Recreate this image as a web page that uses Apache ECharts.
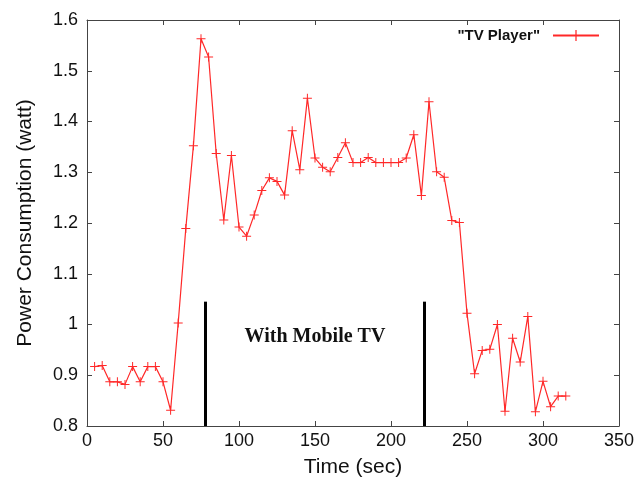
<!DOCTYPE html>
<html>
<head>
<meta charset="utf-8">
<script src="https://cdn.jsdelivr.net/npm/echarts@6/dist/echarts.min.js"></script>
<style>
  html, body { margin: 0; padding: 0; background: #fff; }
  #chart { width: 644px; height: 480px; }
</style>
</head>
<body>
<div id="chart"></div>
<script>
// Sample times (sec) and measured power draw (watt)
const timeSec = [5, 10, 15, 20, 25, 30, 35, 40, 45, 50, 55, 60, 65, 70, 75, 80, 85, 90, 95, 100,
  105, 110, 115, 120, 125, 130, 135, 140, 145, 150, 155, 160, 165, 170, 175, 180, 185, 190, 195, 200,
  205, 210, 215, 220, 225, 230, 235, 240, 245, 250, 255, 260, 265, 270, 275, 280, 285, 290, 295, 300,
  305, 310, 315];
const powerWatt = [0.917, 0.919, 0.887, 0.887, 0.882, 0.917, 0.887, 0.917, 0.917, 0.887,
  0.831, 1.003, 1.189, 1.352, 1.563, 1.527, 1.337, 1.206, 1.333, 1.192,
  1.174, 1.216, 1.264, 1.289, 1.282, 1.255, 1.382, 1.305, 1.446, 1.328,
  1.310, 1.301, 1.329, 1.358, 1.319, 1.319, 1.329, 1.319, 1.319, 1.319,
  1.319, 1.328, 1.374, 1.254, 1.439, 1.301, 1.290, 1.205, 1.201, 1.022,
  0.903, 0.949, 0.951, 1.000, 0.829, 0.973, 0.926, 1.016, 0.828, 0.888,
  0.838, 0.859, 0.859];

// Start / end of the mobile TV session and the height of the marker bars
const sessionBounds = [78, 222];
const boundTop = 1.045;
const sessionLabel = 'With Mobile TV';
const sessionLabelPos = [150, 0.975];

const seriesName = '"TV Player"';

const xTicks = { min: 0, max: 350, interval: 50 };
const yTicks = { min: 0.8, max: 1.6, interval: 0.1 };

const plusPath = 'path://M4,0h1v4h4v1h-4v4h-1v-4h-4v-1h4z';
const frameColor = '#444';
const lineRed = '#ff2828';
const fontFamily = '"Liberation Sans", Arial, sans-serif';

const chart = echarts.init(document.getElementById('chart'), null, { renderer: 'canvas' });

const axisCommon = {
  axisLine: { show: true, onZero: false, lineStyle: { color: frameColor, width: 1 } },
  axisTick: { show: true, inside: true, length: 5, lineStyle: { color: frameColor } },
  splitLine: { show: false }
};

chart.setOption({
  animation: false,
  backgroundColor: '#fff',
  grid: { left: 87, right: 25, top: 20, bottom: 54, show: false, containLabel: false, outerBoundsMode: 'none' },
  legend: {
    data: [seriesName],
    right: 39,
    top: 23,
    align: 'right',
    itemWidth: 46,
    itemHeight: 14,
    textStyle: { fontFamily: fontFamily, fontSize: 15, fontWeight: 'bold', color: '#111', padding: [0, 8, 0, 0] }
  },
  xAxis: [
    Object.assign({
      type: 'value', position: 'bottom',
      min: xTicks.min, max: xTicks.max, interval: xTicks.interval,
      name: 'Time (sec)', nameLocation: 'middle', nameGap: 31,
      nameTextStyle: { fontFamily: fontFamily, fontSize: 21, color: '#111' },
      axisLabel: { fontFamily: fontFamily, fontSize: 18, color: '#111', margin: 6 }
    }, axisCommon),
    Object.assign({
      type: 'value', position: 'top',
      min: xTicks.min, max: xTicks.max, interval: xTicks.interval,
      axisLabel: { show: false }
    }, axisCommon)
  ],
  yAxis: [
    Object.assign({
      type: 'value', position: 'left',
      min: yTicks.min, max: yTicks.max, interval: yTicks.interval,
      name: 'Power Consumption (watt)', nameLocation: 'middle', nameGap: 51,
      nameTextStyle: { fontFamily: fontFamily, fontSize: 21, color: '#111' },
      axisLabel: { fontFamily: fontFamily, fontSize: 18, color: '#111', margin: 9 }
    }, axisCommon),
    Object.assign({
      type: 'value', position: 'right',
      min: yTicks.min, max: yTicks.max, interval: yTicks.interval,
      axisLabel: { show: false }
    }, axisCommon)
  ],
  series: [
    {
      name: seriesName,
      type: 'line',
      data: timeSec.map((t, i) => [t, powerWatt[i]]),
      symbol: plusPath,
      symbolSize: 9,
      showAllSymbol: true,
      itemStyle: { color: lineRed },
      lineStyle: { color: lineRed, width: 1.2 },
      z: 3
    },
    {
      name: 'session',
      type: 'line',
      data: [],
      silent: true,
      markLine: {
        silent: true,
        symbol: ['none', 'none'],
        label: { show: false },
        lineStyle: { color: '#000', width: 3, type: 'solid' },
        data: sessionBounds.map(t => [{ coord: [t, yTicks.min] }, { coord: [t, boundTop] }])
      }
    },
    {
      name: 'sessionLabel',
      type: 'scatter',
      silent: true,
      data: [sessionLabelPos],
      symbolSize: 1,
      itemStyle: { color: 'rgba(0,0,0,0)', opacity: 1 },
      label: {
        show: true,
        position: 'inside',
        align: 'center',
        verticalAlign: 'middle',
        formatter: sessionLabel,
        fontFamily: '"Liberation Serif", "Times New Roman", serif',
        fontWeight: 'bold',
        fontSize: 20,
        color: '#111',
        textBorderWidth: 0
      }
    }
  ]
});
</script>
</body>
</html>
